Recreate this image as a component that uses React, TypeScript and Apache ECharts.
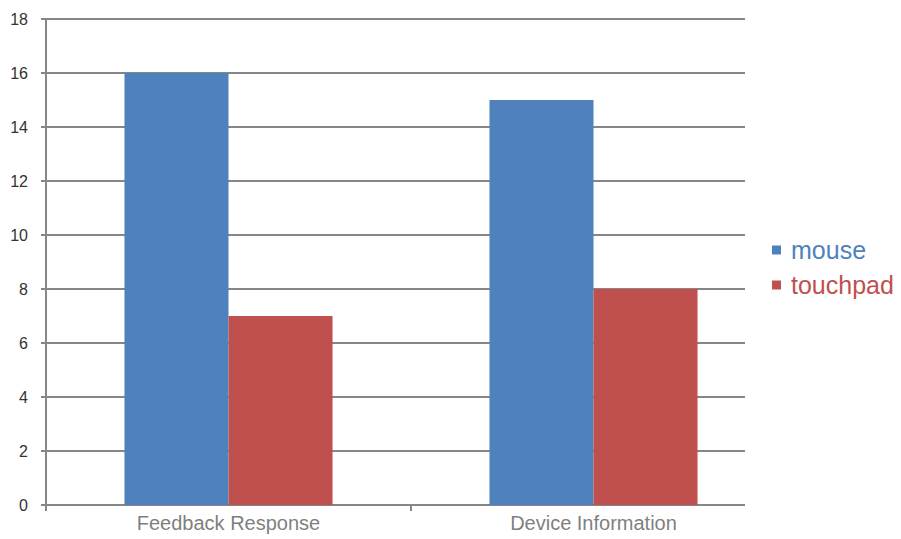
import React, { useEffect, useRef } from "react";
import * as echarts from "echarts";

const categories = ["Feedback Response", "Device Information"];
const mouseValues = [16, 15];
const touchpadValues = [7, 8];
const seriesNames = ["mouse", "touchpad"];
const seriesColors = ["#4f81bd", "#c0504d"];

const FONT = "'Liberation Sans', Arial, sans-serif";
const GRID_GRAY = "#868686";

export default function App() {
  const ref = useRef<HTMLDivElement>(null);

  useEffect(() => {
    if (!ref.current) return;
    const chart = echarts.init(ref.current, undefined, { renderer: "svg" });
    chart.setOption({
      animation: false,
      backgroundColor: "#ffffff",
      textStyle: { fontFamily: FONT },
      grid: [
        // value grid: gridlines and y labels
        { left: 46, right: 156, top: 19, bottom: 34, containLabel: false },
        // bar grid: slightly wider category band
        { left: 46, right: 125, top: 19, bottom: 34, containLabel: false },
      ],
      legend: {
        orient: "vertical",
        left: 767,
        top: 232,
        icon: "rect",
        itemWidth: 9,
        itemHeight: 9,
        itemGap: 9,
        data: seriesNames.map((n, i) => ({
          name: n,
          textStyle: { color: seriesColors[i] },
        })),
        textStyle: { fontSize: 25, fontFamily: FONT, lineHeight: 26, padding: [0, 0, 0, 5] },
      },
      // the category axis always adds a closing tick at the far band edge; mask it
      graphic: [
        {
          type: "rect",
          left: 768,
          top: 500,
          shape: { width: 16, height: 18 },
          style: { fill: "#ffffff" },
          z: 100,
        },
      ],
      xAxis: [
        {
          type: "category",
          gridIndex: 0,
          data: categories,
          show: false,
        },
        {
          type: "category",
          gridIndex: 1,
          data: categories,
          axisLine: { show: false },
          axisTick: {
            show: true,
            length: 6,
            lineStyle: { color: GRID_GRAY, width: 2 },
          },
          axisLabel: {
            color: "#7f7f7f",
            fontSize: 20,
            fontFamily: FONT,
            margin: 8,
          },
        },
      ],
      yAxis: [
        {
          type: "value",
          gridIndex: 0,
          min: 0,
          max: 18,
          interval: 2,
          axisLine: { show: true, lineStyle: { color: GRID_GRAY, width: 2 } },
          axisTick: { show: true, length: 5, lineStyle: { color: GRID_GRAY, width: 2 } },
          axisLabel: { color: "#333333", fontSize: 16, fontFamily: FONT, margin: 18 },
          splitLine: { show: true, lineStyle: { color: GRID_GRAY, width: 2 } },
        },
        {
          type: "value",
          gridIndex: 1,
          min: 0,
          max: 18,
          interval: 2,
          show: false,
          splitLine: { show: false },
        },
      ],
      series: [
        {
          name: seriesNames[0],
          type: "bar",
          xAxisIndex: 1,
          yAxisIndex: 1,
          data: mouseValues,
          itemStyle: { color: seriesColors[0] },
          barGap: "0%",
          barCategoryGap: "43%",
        },
        {
          name: seriesNames[1],
          type: "bar",
          xAxisIndex: 1,
          yAxisIndex: 1,
          data: touchpadValues,
          itemStyle: { color: seriesColors[1] },
          barGap: "0%",
          barCategoryGap: "43%",
        },
      ],
    });
    return () => chart.dispose();
  }, []);

  return (
    <div
      ref={ref}
      style={{ position: "fixed", left: 0, top: 0, width: 901, height: 539, background: "#fff" }}
    />
  );
}
